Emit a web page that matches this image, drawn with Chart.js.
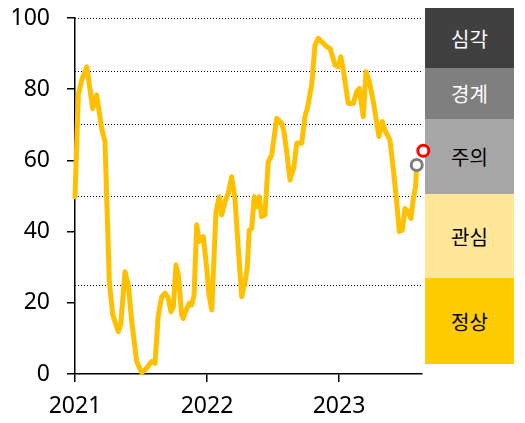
<!DOCTYPE html>
<html>
<head>
<meta charset="utf-8">
<script src="https://cdn.jsdelivr.net/npm/chart.js@4"></script>
<style>
  html, body { margin: 0; padding: 0; background: #fff; }
  #wrap { position: relative; width: 525px; height: 423px; overflow: hidden; }
  #panel div { position: absolute; left: 425px; width: 89px; display: flex; align-items: center; justify-content: center;
    font-family: "Noto Sans CJK KR", "Noto Sans", sans-serif; font-size: 20px; }
  canvas { position: absolute; left: 0; top: 0; z-index: 2; }
</style>
</head>
<body>
<div id="wrap">
  <div id="panel">
    <div style="top:8px;height:60px;background:#404040;color:#fff;">심각</div>
    <div style="top:68px;height:51px;background:#7f7f7f;color:#fff;">경계</div>
    <div style="top:119px;height:75px;background:#a6a6a6;color:#000;">주의</div>
    <div style="top:194px;height:84px;background:#ffe699;color:#000;">관심</div>
    <div style="top:278px;height:86px;background:#ffcc00;color:#000;">정상</div>
  </div>
  <canvas id="c" width="525" height="423"></canvas>
</div>
<script>
// ---- data ----
const dates = [
  2021.000, 2021.025, 2021.051, 2021.089, 2021.134, 2021.164, 2021.202, 2021.227, 2021.260, 2021.286,
  2021.328, 2021.346, 2021.379, 2021.404, 2021.430, 2021.467, 2021.505, 2021.530, 2021.581, 2021.606,
  2021.631, 2021.657, 2021.682, 2021.707, 2021.727, 2021.745, 2021.765, 2021.783, 2021.808, 2021.820,
  2021.846, 2021.866, 2021.884, 2021.902, 2021.922, 2021.942, 2021.972, 2021.998, 2022.015, 2022.036,
  2022.068, 2022.093, 2022.111, 2022.136, 2022.161, 2022.187, 2022.212, 2022.237, 2022.263, 2022.288,
  2022.305, 2022.320, 2022.339, 2022.358, 2022.377, 2022.396, 2022.414, 2022.439, 2022.464, 2022.490,
  2022.528, 2022.566, 2022.583, 2022.604, 2022.629, 2022.659, 2022.680, 2022.717, 2022.742, 2022.760,
  2022.793, 2022.818, 2022.843, 2022.881, 2022.907, 2022.932, 2022.970, 2022.995, 2023.013, 2023.033,
  2023.070, 2023.108, 2023.134, 2023.154, 2023.184, 2023.205, 2023.230, 2023.260, 2023.303, 2023.328,
  2023.348, 2023.386, 2023.411, 2023.437, 2023.457, 2023.480, 2023.500, 2023.523, 2023.545, 2023.563,
  2023.580, 2023.589
];
const values = [
  49.8, 78.4, 82.6, 86.3, 74.6, 78.4, 69.0, 65.3, 25.9, 16.6,
  11.9, 13.8, 28.7, 25.0, 14.7, 3.5, 0.4, 1.1, 3.5, 3.0,
  16.6, 21.7, 22.7, 21.3, 17.5, 18.9, 30.6, 27.8, 16.6, 15.6,
  18.4, 19.9, 19.4, 22.2, 41.9, 37.2, 38.6, 29.7, 22.2, 18.0,
  45.6, 49.8, 44.7, 48.4, 50.8, 55.4, 49.3, 35.3, 21.7, 25.9,
  29.7, 40.4, 40.9, 49.8, 47.0, 49.8, 44.2, 44.7, 59.6, 61.5,
  71.8, 70.4, 68.1, 62.4, 54.5, 58.2, 64.8, 64.8, 72.3, 74.6,
  81.2, 92.4, 94.3, 92.9, 91.9, 91.5, 86.8, 86.3, 89.1, 85.4,
  76.0, 76.0, 79.3, 80.2, 72.3, 84.9, 82.1, 76.5, 66.7, 70.9,
  68.5, 65.7, 57.8, 48.4, 40.0, 40.4, 46.5, 45.6, 43.7, 49.3,
  52.5, 58.7
];
const latestDate = [2023.639];
const latestValue = [62.7];
const yearTicks = [2021, 2022, 2023];
const yTicks = [0, 20, 40, 60, 80, 100];
const levelLines = [25, 50, 70, 85, 100];
const xMin = 2021, xMax = 2023.629;

// ---- chart ----
const linePts = dates.map((d, i) => ({ x: d, y: values[i] }));
const lastIdx = values.length - 1;
const font = { family: "'Noto Sans', sans-serif", size: 23 };

new Chart(document.getElementById('c'), {
  type: 'line',
  data: {
    datasets: [
      {
        data: [{ x: latestDate[0], y: latestValue[0] }],
        borderColor: '#ff0000', backgroundColor: '#ffffff',
        pointRadius: 5.5, pointBorderWidth: 3, showLine: false, order: 0
      },
      {
        data: [{ x: dates[lastIdx], y: values[lastIdx] }],
        borderColor: '#7f7f7f', backgroundColor: '#ffffff',
        pointRadius: 5.5, pointBorderWidth: 3, showLine: false, order: 1
      },
      {
        data: linePts,
        borderColor: '#ffc000', borderWidth: 5, pointRadius: 0,
        tension: 0, fill: false, borderJoinStyle: 'round', borderCapStyle: 'round', order: 2
      }
    ]
  },
  options: {
    responsive: false,
    animation: false,
    clip: false,
    layout: { padding: { left: 0, right: 103, top: 18, bottom: 0 } },
    plugins: { legend: { display: false }, tooltip: { enabled: false } },
    scales: {
      x: {
        type: 'linear', min: xMin, max: xMax,
        afterBuildTicks: s => { s.ticks = yearTicks.map(v => ({ value: v })); },
        ticks: { font, color: '#000', padding: 11, maxRotation: 0, callback: v => String(v) },
        grid: { display: true, drawOnChartArea: false, drawTicks: true, tickLength: 8, color: '#000', lineWidth: 1.5 },
        border: { display: true, color: '#000', width: 1.5 },
        afterFit: s => { s.height = 49; s.paddingLeft = 0; s.paddingRight = 0; }
      },
      y: {
        type: 'linear', min: 0, max: 100,
        afterBuildTicks: s => { s.ticks = yTicks.map(v => ({ value: v })); },
        ticks: { font, color: '#000', padding: 17 },
        grid: { display: true, drawOnChartArea: false, drawTicks: true, tickLength: 8, color: '#000', lineWidth: 1.5 },
        border: { display: true, color: '#000', width: 1.5 },
        afterFit: s => { s.width = 75; s.paddingTop = 0; s.paddingBottom = 0; }
      },
      y2: {
        type: 'linear', position: 'right', min: 0, max: 100,
        afterBuildTicks: s => { s.ticks = levelLines.map(v => ({ value: v })); },
        ticks: { display: false },
        grid: { display: true, drawOnChartArea: true, drawTicks: false, tickLength: 0, color: '#000', lineWidth: 1 },
        border: { display: false, dash: [1, 2] },
        afterFit: s => { s.width = 0; s.paddingTop = 0; s.paddingBottom = 0; }
      }
    }
  }
});
</script>
</body>
</html>
